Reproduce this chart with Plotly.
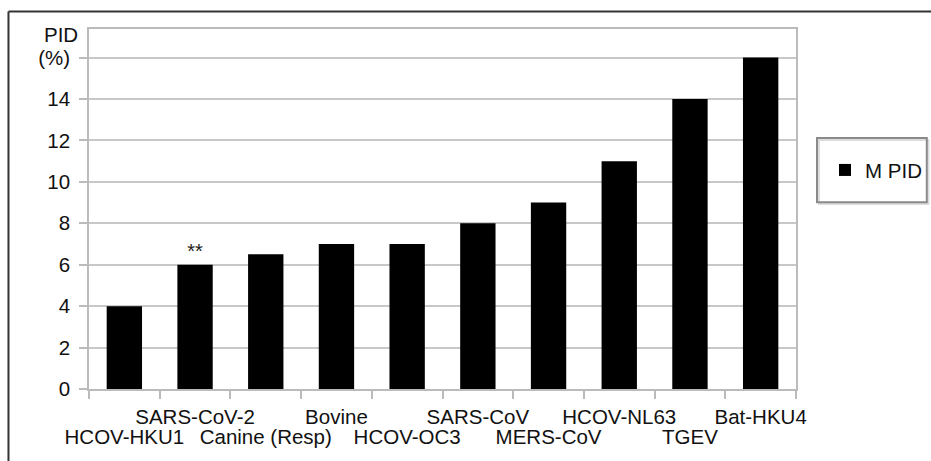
import plotly.graph_objects as go

categories = ["HCOV-HKU1", "SARS-CoV-2", "Canine (Resp)", "Bovine", "HCOV-OC3",
              "SARS-CoV", "MERS-CoV", "HCOV-NL63", "TGEV", "Bat-HKU4"]
m_pid = [4, 6, 6.5, 7, 7, 8, 9, 11, 14, 16]
bar_notes = ["", "**", "", "", "", "", "", "", "", ""]
y_tickvals = [0, 2, 4, 6, 8, 10, 12, 14, 16]
y_ticktext = ["0", "2", "4", "6", "8", "10", "12", "14", "(%)"]

# labels alternate between an upper row (odd index) and a lower row (even index)
upper_row = [c if i % 2 == 1 else " " for i, c in enumerate(categories)]
lower_row = [c if i % 2 == 0 else " " for i, c in enumerate(categories)]

FONT = "Liberation Sans, Arial, sans-serif"
FS = 20.5

fig = go.Figure()
fig.add_trace(go.Bar(
    x=categories, y=m_pid, name="M PID",
    marker=dict(color="black", line=dict(width=0)),
    width=0.5,
    text=bar_notes, textposition="outside",
    textfont=dict(size=20, color="#222", family=FONT),
    cliponaxis=False,
))
# invisible helper trace carrying the second (lower) label row
fig.add_trace(go.Bar(
    x=categories, y=[None] * len(categories), xaxis="x2", showlegend=False,
    hoverinfo="skip",
))

fig.update_layout(
    width=931, height=461,
    margin=dict(l=89, r=135, t=29, b=72, autoexpand=False),
    paper_bgcolor="white", plot_bgcolor="white",
    font=dict(family=FONT, size=FS, color="#111"),
    showlegend=True,
    barmode="overlay",
    legend=dict(x=1.041, y=0.608, xanchor="left", yanchor="middle",
                bgcolor="rgba(0,0,0,0)", borderwidth=0,
                font=dict(size=FS, family=FONT, color="#111")),
    xaxis=dict(
        tickmode="array", tickvals=categories, ticktext=upper_row,
        tickson="boundaries", ticks="outside", ticklen=8, tickcolor="#bbbbbb",
        tickwidth=1.5, ticklabelstandoff=9, automargin=False,
        showline=True, linecolor="#bbbbbb", linewidth=1.5, mirror=True,
        showgrid=False, tickangle=0,
        tickfont=dict(size=FS, family=FONT, color="#111"),
    ),
    xaxis2=dict(
        overlaying="x", matches="x", side="bottom", anchor="y",
        tickmode="array", tickvals=categories, ticktext=lower_row,
        ticks="", ticklabelstandoff=33, showline=False, showgrid=False,
        automargin=False,
        tickangle=0, tickfont=dict(size=FS, family=FONT, color="#111"),
    ),
    yaxis=dict(
        range=[0, 17.38], tickmode="array", tickvals=y_tickvals, ticktext=y_ticktext,
        ticks="outside", ticklen=8, tickcolor="#bbbbbb", tickwidth=1.5,
        ticklabelstandoff=5, automargin=False,
        showline=True, linecolor="#bbbbbb", linewidth=1.5, mirror=True,
        showgrid=True, gridcolor="#c8c8c8", gridwidth=1.5, zeroline=False,
        tickfont=dict(size=FS, family=FONT, color="#111"),
    ),
    annotations=[dict(text="PID", xref="paper", yref="y", x=0, y=17.12,
                      xanchor="right", yanchor="middle", xshift=-9, showarrow=False,
                      font=dict(size=FS, family=FONT, color="#111"))],
    shapes=[
        # legend box shadow and box
        dict(type="rect", xref="paper", yref="paper", x0=1.0325, x1=1.1875, y0=0.514, y1=0.692,
             line=dict(color="#dddddd", width=2), layer="below"),
        dict(type="rect", xref="paper", yref="paper", x0=1.0297, x1=1.185, y0=0.519, y1=0.697,
             line=dict(color="#8a8a8a", width=2)),
        # outer frame (top and left)
        dict(type="line", xref="paper", yref="paper", x0=-0.1139, x1=1.2, y0=1.0485, y1=1.0485,
             line=dict(color="#333333", width=2)),
        dict(type="line", xref="paper", yref="paper", x0=-0.1139, x1=-0.1139, y0=1.0485, y1=-0.25,
             line=dict(color="#333333", width=2)),
    ],
)

fig.write_html("out.html", config={"displayModeBar": False},
               post_script="document.body.style.margin='0';document.body.style.overflow='hidden';")
